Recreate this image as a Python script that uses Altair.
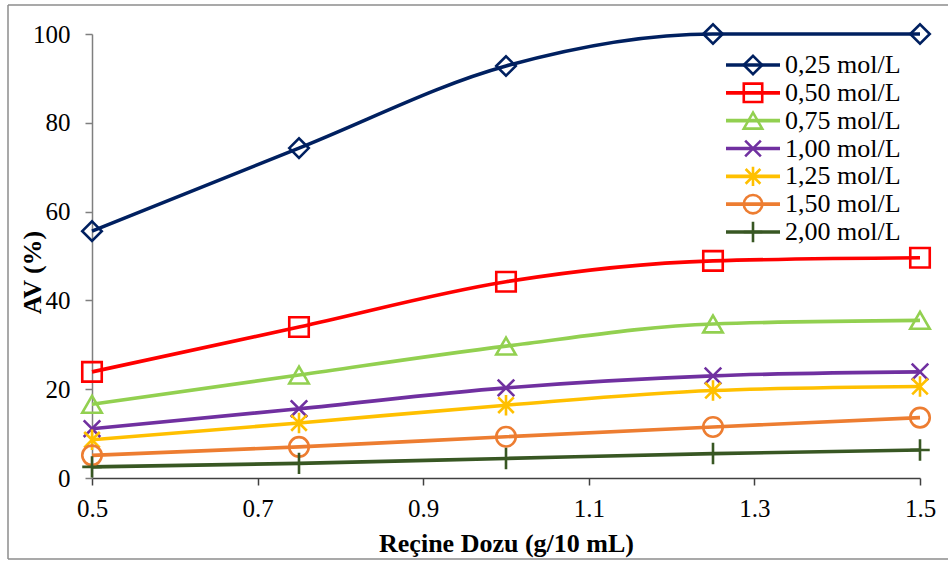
import altair as alt
import pandas as pd

# Resin dose (g / 10 mL) on the x axis
doses = [0.5, 0.75, 1.0, 1.25, 1.5]

# Series labels (acid concentration)
labels = ["0,25 mol/L", "0,50 mol/L", "0,75 mol/L", "1,00 mol/L",
          "1,25 mol/L", "1,50 mol/L", "2,00 mol/L"]

# AV (%) for each concentration
av_025 = [55.6, 74.3, 92.8, 100.0, 100.0]
av_050 = [23.9, 34.0, 44.2, 48.9, 49.6]
av_075 = [16.6, 23.2, 29.7, 34.7, 35.5]
av_100 = [11.1, 15.6, 20.3, 23.0, 23.9]
av_125 = [8.6, 12.4, 16.4, 19.7, 20.6]
av_150 = [5.1, 7.0, 9.3, 11.5, 13.6]
av_200 = [2.5, 3.3, 4.4, 5.5, 6.3]

colors = ["#002060", "#FF0000", "#92D050", "#7030A0", "#FFC000", "#ED7D31", "#385723"]
shapes = [
    "diamond",
    "square",
    "triangle-up",
    "M-0.85,-0.85L0.85,0.85M-0.85,0.85L0.85,-0.85",
    "M-0.8,-0.8L0.8,0.8M-0.8,0.8L0.8,-0.8M0,-1.05L0,1.05",
    "circle",
    "M-1,0L1,0M0,-1.1L0,1.1",
]

series = [av_025, av_050, av_075, av_100, av_125, av_150, av_200]
rows = []
for lab, vals in zip(labels, series):
    for d, v in zip(doses, vals):
        rows.append({"dose": d, "av": v, "series": lab})
df = pd.DataFrame(rows)
legend_df = pd.DataFrame({"series": labels})

FONT = "Liberation Serif"

color_enc = alt.Color("series:N", sort=labels,
                      scale=alt.Scale(domain=labels, range=colors), legend=None)
shape_enc = alt.Shape("series:N", sort=labels,
                      scale=alt.Scale(domain=labels, range=shapes), legend=None)

x_enc = alt.X(
    "dose:Q",
    scale=alt.Scale(domain=[0.5, 1.5], nice=False, zero=False),
    axis=alt.Axis(
        values=[0.5, 0.7, 0.9, 1.1, 1.3, 1.5], format=".1f",
        title="Reçine Dozu (g/10 mL)", grid=False, labelFlush=False,
        domainColor="#404040", domainWidth=1.5,
        tickColor="#404040", tickWidth=1.5, tickSize=7,
        labelFont=FONT, labelFontSize=25, labelColor="black", labelPadding=11,
        titleFont=FONT, titleFontSize=26, titleFontWeight="bold", titleColor="black",
        titleY=65, titleBaseline="middle",
    ),
)
y_enc = alt.Y(
    "av:Q",
    scale=alt.Scale(domain=[0, 100], nice=False),
    axis=alt.Axis(
        values=[0, 20, 40, 60, 80, 100], grid=False, labelFlush=False,
        domainColor="#7f7f7f", domainWidth=1.5,
        tickColor="#7f7f7f", tickWidth=1.5, tickSize=7,
        labelFont=FONT, labelFontSize=25, labelColor="black", labelPadding=15,
        title="AV (%)", titleFont=FONT, titleFontSize=26, titleFontWeight="bold",
        titleColor="black", titleAngle=270, titleX=-60, titleY=238,
        titleAlign="center", titleBaseline="middle",
    ),
)

lines = alt.Chart(df).mark_line(interpolate="monotone", strokeWidth=3.6).encode(
    x=x_enc, y=y_enc, color=color_enc, detail="series:N"
)
points = alt.Chart(df).mark_point(filled=False, size=380, strokeWidth=2.6, opacity=1).encode(
    x=x_enc, y=y_enc, color=color_enc, shape=shape_enc
)
main = alt.layer(lines, points)

# Hand-drawn legend in the upper right of the plot area
leg_y = alt.Y("series:N", sort=labels, axis=None,
              scale=alt.Scale(type="point", domain=labels, range=[31, 198], padding=0))
leg_lines = alt.Chart(legend_df).mark_rule(strokeWidth=3.6).encode(
    x=alt.value(634), x2=alt.value(688), y=leg_y, color=color_enc
)
leg_pts = alt.Chart(legend_df).mark_point(filled=False, size=340, strokeWidth=2.6, opacity=1).encode(
    x=alt.value(661), y=leg_y, color=color_enc, shape=shape_enc
)
leg_text = alt.Chart(legend_df).mark_text(
    align="left", baseline="middle", font=FONT, fontSize=26, color="black"
).encode(x=alt.value(693), y=leg_y, text="series:N")
legend = alt.layer(leg_lines, leg_pts, leg_text)

# Outer chart-area frame (open on the right)
frame_df = pd.DataFrame({"k": [0]})
frame_top = alt.Chart(frame_df).mark_rule(stroke="#8c8c8c", strokeWidth=1.5).encode(
    x=alt.value(-84), x2=alt.value(856), y=alt.value(-29)
)
frame_bottom = alt.Chart(frame_df).mark_rule(stroke="#8c8c8c", strokeWidth=1.5).encode(
    x=alt.value(-84), x2=alt.value(856), y=alt.value(525)
)
frame_left = alt.Chart(frame_df).mark_rule(stroke="#8c8c8c", strokeWidth=1.5).encode(
    x=alt.value(-84), y=alt.value(-29), y2=alt.value(525)
)
frame = alt.layer(frame_top, frame_bottom, frame_left)

chart = alt.layer(main, legend, frame).resolve_scale(y="independent").properties(
    width=828, height=444,
    autosize=alt.AutoSizeParams(type="none"),
    padding={"left": 92, "top": 34, "right": 28, "bottom": 84},
    background="white",
).configure_view(stroke=None)

chart.save("out.html", embed_options={"renderer": "svg", "actions": False})
